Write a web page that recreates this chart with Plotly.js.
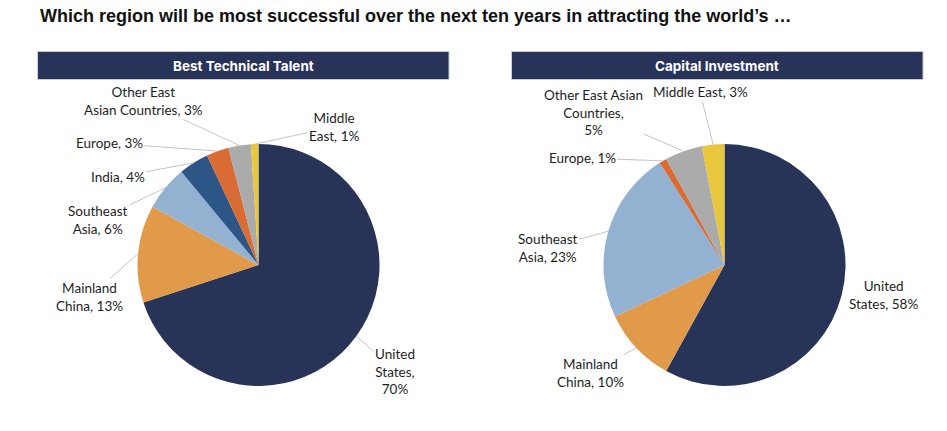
<!DOCTYPE html>
<html>
<head>
<meta charset="utf-8">
<script src="https://cdn.plot.ly/plotly-3.0.1.min.js"></script>
<style>
  html, body { margin: 0; padding: 0; background: #fff; }
  #chart { width: 947px; height: 431px; }
</style>
</head>
<body>
<div id="chart"></div>
<script>
var W = 947, H = 431;

// Best Technical Talent
var talentNames = ["United<br>States", "Mainland<br>China", "Southeast<br>Asia", "India", "Europe", "Other East<br>Asian Countries", "Middle<br>East"];
var talentSeps = [",<br>", ", ", ", ", ", ", ", ", ", ", ", "];
var talentValues = [70, 13, 6, 4, 3, 3, 1];
var talentColors = ["#273357", "#E09A4A", "#93B1D0", "#2D5585", "#D96B35", "#ABABAB", "#E8C73E"];

// Capital Investment
var capitalNames = ["United<br>States", "Mainland<br>China", "Southeast<br>Asia", "Europe", "Other East Asian<br>Countries", "Middle East"];
var capitalSeps = [", ", ", ", ", ", ", ", ",<br>", ", "];
var capitalValues = [58, 10, 23, 1, 5, 3];
var capitalColors = ["#273357", "#E09A4A", "#93B1D0", "#D96B35", "#ABABAB", "#E8C73E"];

var headers = ["Best Technical Talent", "Capital Investment"];

// layout helpers (pixels -> paper)
function px(x) { return x / W; }
function py(y) { return 1 - y / H; }

var R = 121;
var pies = [
  { cx: 258.5, cy: 265, names: talentNames, seps: talentSeps, values: talentValues, colors: talentColors,
    labelPos: [[395, 371], [89, 297], [98, 220], [118, 177], [109, 143], [143, 101], [334, 127]],
    noArrow: [] },
  { cx: 724.5, cy: 265, names: capitalNames, seps: capitalSeps, values: capitalValues, colors: capitalColors,
    labelPos: [[883, 295], [590, 373], [548, 248], [582, 158], [593, 112], [700, 92]],
    noArrow: [0] }
];

var data = [];
var annotations = [];
var labelFont = { family: "Lato, 'Noto Sans', sans-serif", size: 13.5, color: "#1E1E1E" };

pies.forEach(function (p) {
  data.push({
    type: "pie",
    labels: p.names.map(function (n) { return n.replace(/<br>/g, " "); }),
    values: p.values,
    marker: { colors: p.colors, line: { width: 0 } },
    sort: false,
    direction: "clockwise",
    rotation: 0,
    textinfo: "none",
    hoverinfo: "label+percent",
    showlegend: false,
    domain: { x: [px(p.cx - R), px(p.cx + R)], y: [py(p.cy + R), py(p.cy - R)] }
  });

  var total = p.values.reduce(function (a, b) { return a + b; }, 0);
  var cum = 0;
  p.values.forEach(function (v, i) {
    var ang = 2 * Math.PI * (cum + v / 2) / total;
    cum += v;
    var ex = p.cx + R * Math.sin(ang);
    var ey = p.cy - R * Math.cos(ang);
    var lp = p.labelPos[i];
    var txt = p.names[i] + p.seps[i] + v + "%";
    if (p.noArrow.indexOf(i) >= 0) {
      annotations.push({ xref: "paper", yref: "paper", x: px(lp[0]), y: py(lp[1]), text: txt,
        xanchor: "center", yanchor: "middle", showarrow: false, font: labelFont, align: "center" });
    } else {
      annotations.push({ xref: "paper", yref: "paper", x: px(ex), y: py(ey), text: txt,
        showarrow: true, arrowhead: 0, arrowwidth: 1, arrowcolor: "#C4C4C4", standoff: 0,
        ax: lp[0] - ex, ay: lp[1] - ey, font: labelFont, align: "center" });
    }
  });
});

// header bars
var shapes = [];
var bars = [[37.5, 449], [511.5, 923]];
bars.forEach(function (b, i) {
  shapes.push({ type: "rect", layer: "below", xref: "paper", yref: "paper", x0: px(b[0]), x1: px(b[1]), y0: py(79.5), y1: py(51.5),
    fillcolor: "#28335A", line: { width: 1, color: "#C9CDD8" } });
  annotations.push({ xref: "paper", yref: "paper", x: px((b[0] + b[1]) / 2), y: py(65.5), xanchor: "center", yanchor: "middle",
    text: "<b>" + headers[i] + "</b>",
    showarrow: false, font: { family: "Inter, Roboto, sans-serif", size: 13.5, color: "#FFFFFF" } });
});

var layout = {
  width: W, height: H,
  margin: { l: 0, r: 0, t: 0, b: 0 },
  paper_bgcolor: "#FFFFFF",
  title: {
    text: "<b>Which region will be most successful over the next ten years in attracting the world\u2019s \u2026</b>",
    x: px(40), xanchor: "left", y: py(15.5), yanchor: "middle", xref: "paper", yref: "paper",
    font: { family: "'Liberation Sans', Arial, sans-serif", size: 18, color: "#111111" }
  },
  shapes: shapes,
  annotations: annotations
};

Plotly.newPlot("chart", data, layout, { displayModeBar: false, staticPlot: true });
</script>
</body>
</html>
